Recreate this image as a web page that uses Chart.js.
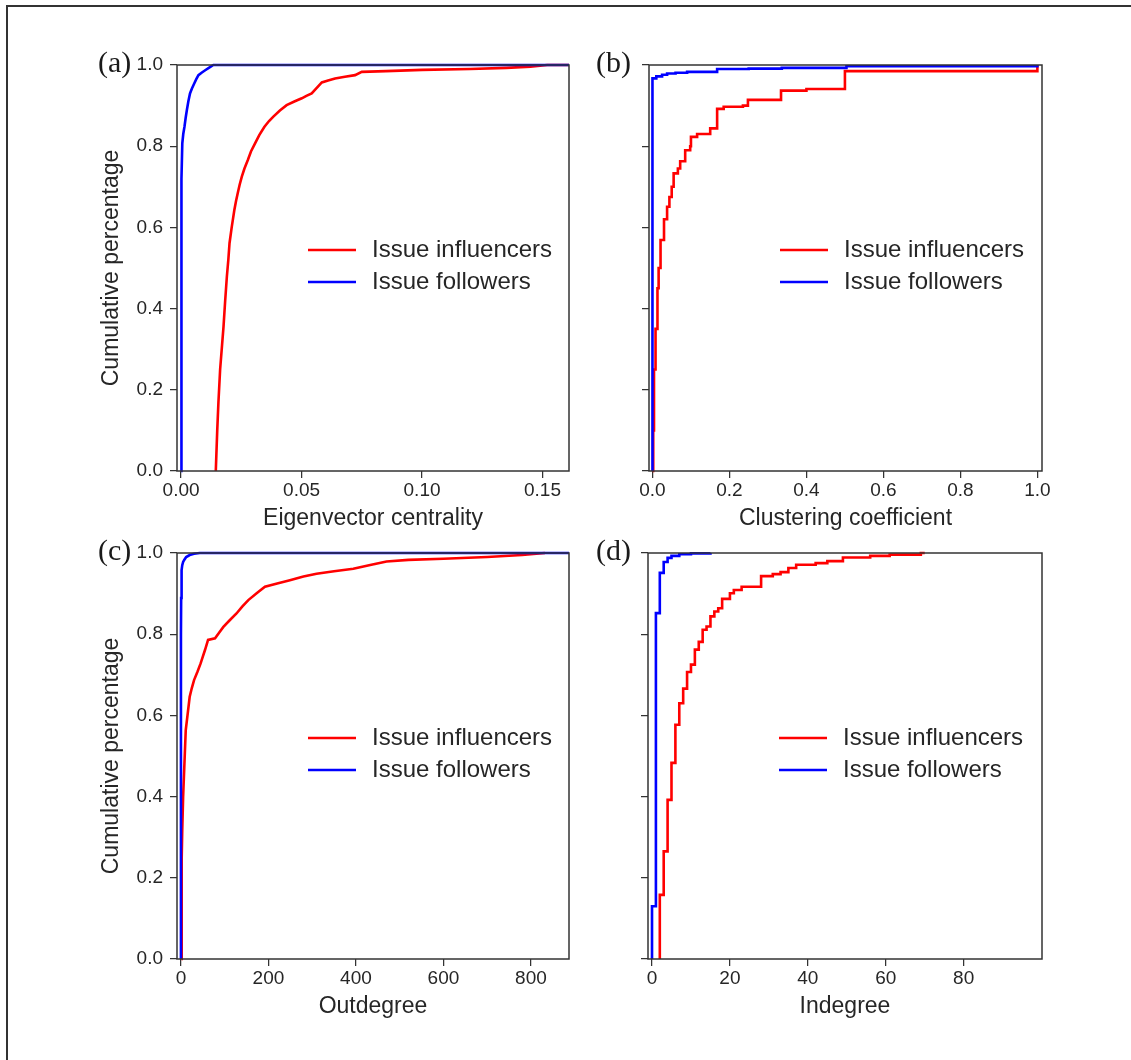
<!DOCTYPE html>
<html>
<head>
<meta charset="utf-8">
<title>Cumulative distributions</title>
<script src="https://cdn.jsdelivr.net/npm/chart.js@4.4.0/dist/chart.umd.min.js"></script>
<style>
  body { margin: 0; background: #fff; }
  #page { position: relative; width: 1131px; height: 1060px; overflow: hidden; }
  #frame { position: absolute; left: 6px; top: 5px; right: -10px; bottom: -10px;
           border-left: 2px solid #333; border-top: 2px solid #333; }
  canvas { position: absolute; }
</style>
</head>
<body>
<div id="page">
  <div id="frame"></div>
  <canvas id="panelA" width="590" height="510" style="left:0;top:20px"></canvas>
  <canvas id="panelB" width="541" height="510" style="left:590px;top:20px"></canvas>
  <canvas id="panelC" width="590" height="488" style="left:0;top:530px"></canvas>
  <canvas id="panelD" width="541" height="488" style="left:590px;top:530px"></canvas>
</div>
<script>
const seriesNames = ["Issue influencers", "Issue followers"];
const yTitle = "Cumulative percentage";
const yTicks = [0, 0.2, 0.4, 0.6, 0.8, 1.0];

// (a) eigenvector centrality
const eigTicks = [0, 0.05, 0.10, 0.15];
const eigInfX = [0.0144, 0.0150, 0.0155, 0.0162, 0.0170, 0.0176, 0.0183, 0.0190, 0.0196, 0.0201, 0.0210,
                 0.0221, 0.0228, 0.0235, 0.0243, 0.0252, 0.0263, 0.0277, 0.0290, 0.0307, 0.0325, 0.0346,
                 0.0365, 0.0383, 0.0410, 0.0438, 0.0470, 0.0501, 0.0520, 0.0542, 0.0565, 0.0584, 0.0610,
                 0.0639, 0.0680, 0.0722, 0.0750, 0.0850, 0.1000, 0.1200, 0.1350, 0.1450, 0.1520, 0.1610];
const eigInfY = [0.000, 0.100, 0.170, 0.250, 0.310, 0.355, 0.420, 0.479, 0.520, 0.561, 0.600,
                 0.643, 0.665, 0.684, 0.705, 0.725, 0.745, 0.766, 0.787, 0.807, 0.828, 0.848,
                 0.862, 0.873, 0.888, 0.901, 0.910, 0.918, 0.924, 0.930, 0.945, 0.957, 0.962,
                 0.967, 0.971, 0.975, 0.983, 0.985, 0.988, 0.990, 0.993, 0.996, 1.000, 1.000];
const eigFolX = [0.0000, 0.0001, 0.0002, 0.0005, 0.0009, 0.0014, 0.0019, 0.0024, 0.0030, 0.0037,
                 0.0045, 0.0055, 0.0063, 0.0072, 0.0085, 0.0100, 0.0115, 0.0134, 0.1610];
const eigFolY = [0.000, 0.600, 0.720, 0.807, 0.830, 0.848, 0.870, 0.889, 0.910, 0.930,
                 0.942, 0.955, 0.965, 0.975, 0.981, 0.987, 0.993, 1.000, 1.000];

// (b) clustering coefficient
const clusTicks = [0, 0.2, 0.4, 0.6, 0.8, 1.0];
const clusInfX = [0.000, 0.002, 0.004, 0.008, 0.013, 0.016, 0.021, 0.030, 0.038, 0.044, 0.050, 0.055,
                  0.066, 0.072, 0.085, 0.098, 0.100, 0.116, 0.150, 0.168, 0.185, 0.235, 0.248, 0.334,
                  0.400, 0.500, 1.000];
const clusInfY = [0.000, 0.100, 0.250, 0.350, 0.450, 0.500, 0.569, 0.620, 0.651, 0.675, 0.700, 0.733,
                  0.745, 0.763, 0.790, 0.800, 0.823, 0.830, 0.844, 0.892, 0.897, 0.900, 0.914, 0.937,
                  0.941, 0.985, 1.000];
const clusFolX = [0.000, 0.000, 0.010, 0.025, 0.038, 0.060, 0.090, 0.168, 0.250, 0.336, 0.504, 1.000];
const clusFolY = [0.000, 0.967, 0.972, 0.976, 0.979, 0.981, 0.983, 0.990, 0.991, 0.993, 0.997, 1.000];

// (c) outdegree
const outTicks = [0, 200, 400, 600, 800];
const outInfX = [1, 1.5, 2, 3, 5, 8, 11, 15, 20, 25, 30, 38, 45, 50, 55, 62, 78, 88, 97, 112, 127, 140,
                 154, 173, 192, 220, 249, 280, 310, 350, 394, 430, 470, 520, 600, 700, 780, 832];
const outInfY = [0.000, 0.150, 0.250, 0.318, 0.400, 0.482, 0.564, 0.600, 0.646, 0.668, 0.687, 0.708,
                 0.728, 0.745, 0.761, 0.786, 0.790, 0.805, 0.818, 0.835, 0.851, 0.868, 0.884, 0.901,
                 0.917, 0.925, 0.933, 0.942, 0.949, 0.955, 0.961, 0.970, 0.979, 0.983, 0.986, 0.990,
                 0.995, 1.000];
const outFolX = [0, 0, 0.5, 1.5, 3, 5, 7.5, 12, 20, 30, 43, 887];
const outFolY = [0.000, 0.800, 0.889, 0.958, 0.970, 0.978, 0.983, 0.990, 0.995, 0.998, 1.000, 1.000];

// (d) indegree
const inTicks = [0, 20, 40, 60, 80];
const inInfX = [2, 2, 3, 4, 5, 6, 7, 8, 9, 10, 11, 12, 13, 14, 15, 16, 17, 18, 20, 21, 23, 28, 31, 33,
                35, 37, 42, 45, 49, 56, 61, 69, 70];
const inInfY = [0.000, 0.158, 0.265, 0.392, 0.483, 0.577, 0.630, 0.666, 0.707, 0.725, 0.762, 0.781,
                0.811, 0.819, 0.844, 0.856, 0.864, 0.887, 0.901, 0.909, 0.917, 0.943, 0.948, 0.953,
                0.963, 0.971, 0.975, 0.980, 0.989, 0.993, 0.996, 1.000, 1.000];
const inFolX = [0, 0, 1, 2, 3, 4, 5, 7, 10, 15];
const inFolY = [0.000, 0.130, 0.852, 0.951, 0.978, 0.988, 0.993, 0.997, 0.999, 1.000];

const sans = '"Liberation Sans", Arial, sans-serif';
const textColor = "#262626";
const lineW = 2.6;

function pts(xs, ys) {
    return xs.map((x, i) => ({ x: x, y: ys[i] }));
}

// spines box, in-plot legend and the panel letter
const panelDecor = {
    id: "panelDecor",
    afterDatasetsDraw(chart, args, opts) {
        const ctx = chart.ctx;
        const a = chart.chartArea;
        ctx.save();
        ctx.strokeStyle = "#333";
        ctx.lineWidth = 1.5;
        ctx.strokeRect(a.left, a.top, a.right - a.left, a.bottom - a.top);

        chart.data.datasets.forEach((ds, i) => {
            const y = a.top + 185 + i * 32;
            ctx.strokeStyle = ds.borderColor;
            ctx.lineWidth = ds.borderWidth;
            ctx.beginPath();
            ctx.moveTo(a.left + 131, y);
            ctx.lineTo(a.left + 179, y);
            ctx.stroke();
            ctx.fillStyle = textColor;
            ctx.font = "24px " + sans;
            ctx.textBaseline = "middle";
            ctx.fillText(ds.label, a.left + 195, y);
        });

        ctx.fillStyle = "#1a1a1a";
        ctx.font = '30px "Liberation Serif", "Times New Roman", serif';
        ctx.textBaseline = "alphabetic";
        ctx.fillText(opts.letter, opts.letterX, a.top + 7);
        ctx.restore();
    }
};

function makeChart(p) {
    const ctx = document.getElementById(p.id).getContext("2d");
    return new Chart(ctx, {
        type: "line",
        data: {
            datasets: [{
                label: seriesNames[0],
                data: pts(p.infX, p.infY),
                borderColor: "#ff0000",
                borderWidth: lineW,
                stepped: p.stepInf,
                tension: 0,
                pointRadius: 0,
                fill: false,
                clip: false,
                order: 1
            }, {
                label: seriesNames[1],
                data: pts(p.folX, p.folY),
                borderColor: "#0000ff",
                borderWidth: lineW,
                stepped: p.stepFol,
                tension: 0,
                pointRadius: 0,
                fill: false,
                clip: false,
                order: 0
            }]
        },
        options: {
            responsive: false,
            animation: false,
            devicePixelRatio: 1,
            events: [],
            layout: { padding: { top: p.padTop, right: p.padRight, left: 0, bottom: 0 } },
            plugins: {
                legend: { display: false },
                tooltip: { enabled: false },
                panelDecor: { letter: p.letter, letterX: p.letterX }
            },
            scales: {
                x: {
                    type: "linear",
                    min: p.xMin,
                    max: p.xMax,
                    afterBuildTicks: s => { s.ticks = p.xTicks.map(v => ({ value: v })); },
                    afterFit: s => { s.height = 59; },
                    border: { display: false },
                    grid: { display: true, drawOnChartArea: false, drawTicks: true, tickLength: 7,
                            color: "#333", lineWidth: 1.25 },
                    ticks: {
                        autoSkip: false, maxRotation: 0, padding: 1,
                        color: textColor, font: { family: sans, size: 19 },
                        callback: v => v.toFixed(p.decimals)
                    },
                    title: {
                        display: true, text: p.xTitle, color: textColor, padding: 0,
                        font: { family: sans, size: 23, lineHeight: 1 }
                    }
                },
                y: {
                    type: "linear",
                    min: 0,
                    max: 1,
                    afterBuildTicks: s => { s.ticks = yTicks.map(v => ({ value: v })); },
                    afterFit: s => { s.width = p.yWidth; },
                    border: { display: false },
                    grid: { display: true, drawOnChartArea: false, drawTicks: true, tickLength: 7,
                            color: "#333", lineWidth: 1.25 },
                    ticks: {
                        autoSkip: false, padding: 7,
                        color: textColor, font: { family: sans, size: 19 },
                        callback: v => p.showY ? v.toFixed(1) : ""
                    },
                    title: {
                        display: p.showY, text: yTitle, color: textColor,
                        padding: { top: 100.5, bottom: 0 },
                        font: { family: sans, size: 23, lineHeight: 1 }
                    }
                }
            }
        },
        plugins: [panelDecor]
    });
}

makeChart({ id: "panelA", letter: "(a)", letterX: 98, xTitle: "Eigenvector centrality",
    xTicks: eigTicks, xMin: -0.0017, xMax: 0.161, decimals: 2, showY: true,
    yWidth: 177, padTop: 45, padRight: 21, stepInf: false, stepFol: false,
    infX: eigInfX, infY: eigInfY, folX: eigFolX, folY: eigFolY });

makeChart({ id: "panelB", letter: "(b)", letterX: 6, xTitle: "Clustering coefficient",
    xTicks: clusTicks, xMin: -0.009, xMax: 1.012, decimals: 1, showY: false,
    yWidth: 59, padTop: 45, padRight: 89, stepInf: "before", stepFol: "before",
    infX: clusInfX, infY: clusInfY, folX: clusFolX, folY: clusFolY });

makeChart({ id: "panelC", letter: "(c)", letterX: 98, xTitle: "Outdegree",
    xTicks: outTicks, xMin: -9, xMax: 887, decimals: 0, showY: true,
    yWidth: 177, padTop: 23, padRight: 21, stepInf: false, stepFol: false,
    infX: outInfX, infY: outInfY, folX: outFolX, folY: outFolY });

makeChart({ id: "panelD", letter: "(d)", letterX: 6, xTitle: "Indegree",
    xTicks: inTicks, xMin: -1.03, xMax: 100.1, decimals: 0, showY: false,
    yWidth: 58, padTop: 23, padRight: 89, stepInf: "before", stepFol: "before",
    infX: inInfX, infY: inInfY, folX: inFolX, folY: inFolY });
</script>
</body>
</html>
